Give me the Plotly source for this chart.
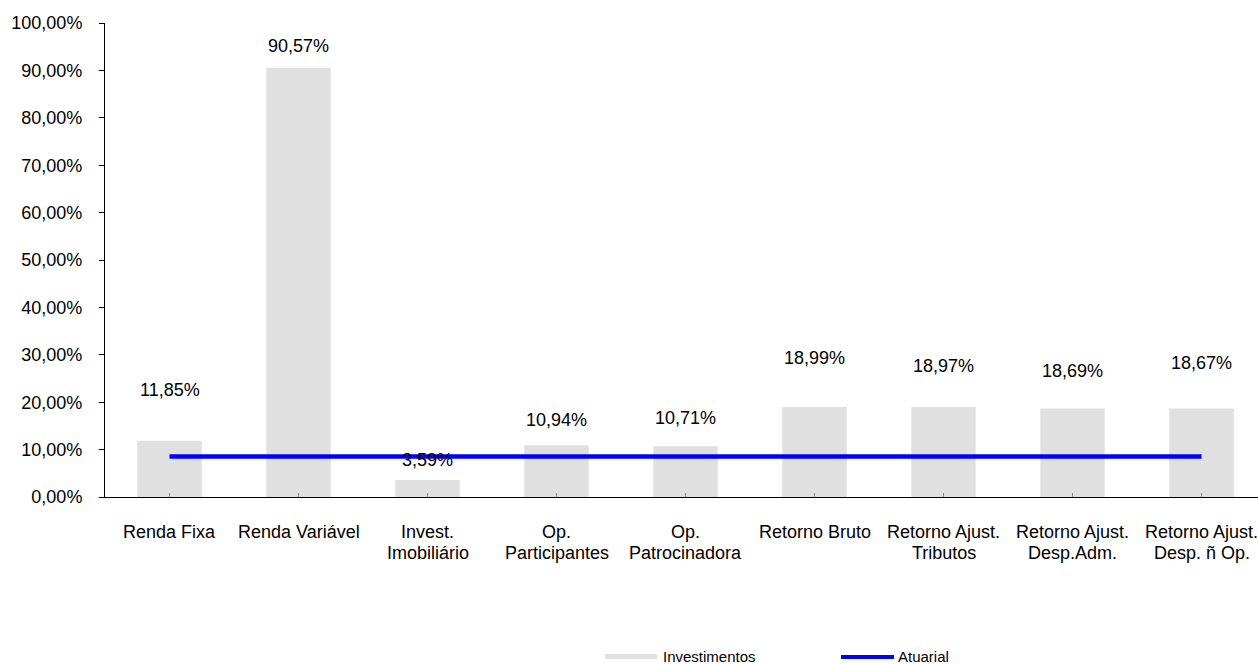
import plotly.graph_objects as go

categories = ["Renda Fixa", "Renda Variável", "Invest.<br>Imobiliário", "Op.<br>Participantes",
              "Op.<br>Patrocinadora", "Retorno Bruto", "Retorno Ajust.<br>Tributos",
              "Retorno Ajust.<br>Desp.Adm.", "Retorno Ajust.<br>Desp. ñ Op."]
investimentos = [11.85, 90.57, 3.59, 10.94, 10.71, 18.99, 18.97, 18.69, 18.67]
atuarial = [8.55] * 9
label_shift = [51, 22, 20, 25, 28, 49, 41, 37, 46]

FONT = "Liberation Sans, Arial, sans-serif"
OFF = 0  # page body margin removed via post_script
W, H = 1258 - OFF, 664 - OFF
L, R, T, B = 105 - OFF, 0, 23 - OFF, 167
pw, ph = W - L - R, H - T - B

def px(x):
    return (x - OFF - L) / pw

def py(y):
    return (H + OFF - B - y) / ph

fig = go.Figure()
fig.add_trace(go.Bar(x=list(range(9)), y=investimentos, width=0.5,
                     marker=dict(color="#E0E0E0", line=dict(width=0)),
                     name="Investimentos", showlegend=False))
fig.add_trace(go.Scatter(x=list(range(9)), y=atuarial, mode="lines",
                         line=dict(color="#0000FF", width=4.5), name="Atuarial",
                         showlegend=False))

annotations = []
for i, (v, s) in enumerate(zip(investimentos, label_shift)):
    annotations.append(dict(x=i, y=v, xref="x", yref="y", text=f"{v:.2f}".replace(".", ",") + "%",
                            showarrow=False, yanchor="middle", yshift=s,
                            font=dict(family=FONT, size=18, color="#000")))

# category labels (two lines at fixed spacing)
for i, c in enumerate(categories):
    for j, line in enumerate(c.split("<br>")):
        annotations.append(dict(x=i, y=py(532 + 21 * j), xref="x", yref="paper", text=line,
                                showarrow=False, xanchor="center", yanchor="middle",
                                font=dict(family=FONT, size=18, color="#000")))

# legend drawn manually
shapes = [
    dict(type="rect", xref="paper", yref="paper", x0=px(605), x1=px(657), y0=py(659), y1=py(654),
         fillcolor="#E0E0E0", line=dict(width=0)),
    dict(type="line", xref="paper", yref="paper", x0=px(841), x1=px(894), y0=py(657), y1=py(657),
         line=dict(color="#0000FF", width=4)),
]
annotations += [
    dict(x=px(661), y=py(657), xref="paper", yref="paper", text="Investimentos", showarrow=False,
         xanchor="left", yanchor="middle", font=dict(family=FONT, size=15, color="#000")),
    dict(x=px(896), y=py(657), xref="paper", yref="paper", text="Atuarial", showarrow=False,
         xanchor="left", yanchor="middle", font=dict(family=FONT, size=15, color="#000")),
]

fig.update_layout(
    width=W, height=H, margin=dict(l=L, r=R, t=T, b=B),
    paper_bgcolor="white", plot_bgcolor="white",
    separators=",.", showlegend=False,
    font=dict(family=FONT, size=18, color="#000"),
    annotations=annotations, shapes=shapes,
    xaxis=dict(range=[-0.5, -0.5 + pw / 129.0], tickmode="array", tickvals=list(range(9)),
               showticklabels=False, showgrid=False, zeroline=False, showline=True,
               linecolor="#000", linewidth=1, ticks="inside", ticklen=4, tickcolor="#888"),
    yaxis=dict(range=[0, 100], dtick=10, tickformat=".2f", ticksuffix="%", showgrid=False,
               zeroline=False, showline=True, linecolor="#000", linewidth=1, ticks="outside",
               ticklen=5, tickcolor="#000", tickfont=dict(family=FONT, size=18, color="#000"),
               ticklabelstandoff=13),
)

fig.write_html("out.html", config={"displayModeBar": False},
               post_script="document.body.style.margin='0';document.body.style.overflow='hidden';")
